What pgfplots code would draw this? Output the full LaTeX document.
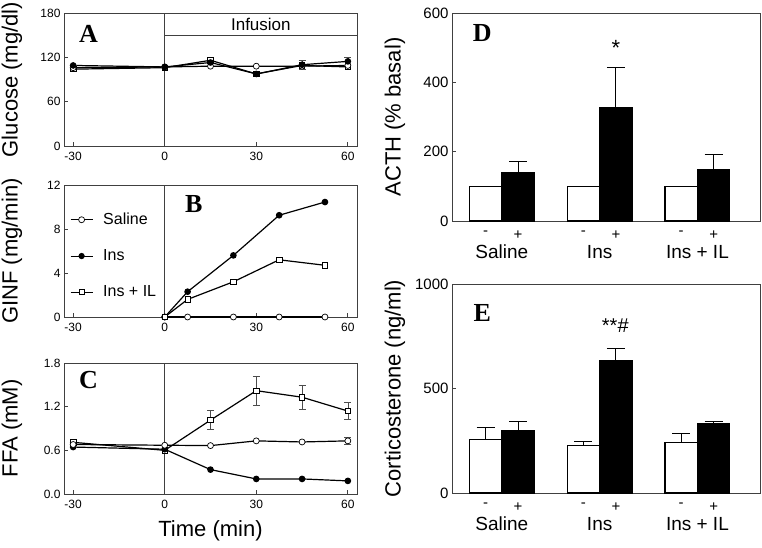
\documentclass[border=0pt]{standalone}
\usepackage{fontspec}
\setmainfont{Liberation Sans}
\newfontfamily\panelfont{Liberation Serif}
\usepackage{pgfplots}
\pgfplotsset{compat=1.18}

\newcommand{\fs}[1]{\fontsize{#1}{#1}\selectfont}
\newcommand{\plabel}[1]{{\panelfont\bfseries\fs{26}#1}}

\pgfplotsset{
  panel/.style={
    scale only axis, clip=false,
    axis line style={black!75, line width=0.8pt},
    tick align=inside, tick pos=left,
    major tick length=4pt,
    tick style={black!75, line width=0.8pt},
    /pgf/number format/assume math mode=true,
    /pgf/number format/1000 sep={},
    ticklabel style={font=\fs{12}},
    ylabel style={at={(axis description cs:0,0.5)}, anchor=center, font=\fs{22}},
  },
  timepanel/.style={
    panel, width=293pt, xmin=-33, xmax=63, xtick={-30,0,30,60},
    xticklabel style={yshift=-3pt},
    ylabel style={yshift=52pt},
  },
  barpanel/.style={
    panel, width=308pt, height=208pt, xmin=-0.51, xmax=2.64, ymin=0,
    xtick={-0.166,0.166,0.834,1.166,1.834,2.166},
    xticklabels={-,+,-,+,-,+},
    x tick style={draw=none},
    ticklabel style={font=\fs{15}},
    xticklabel style={yshift=-6pt},
    ylabel style={yshift=57pt},
  },
  sal/.style={black, line width=1.2pt, mark=*, mark size=3pt,
    mark options={fill=white, line width=0.7pt}},
  ins/.style={black, line width=1.2pt, mark=*, mark size=2.7pt},
  il/.style={black, line width=1.2pt, mark=square*, mark size=2.7pt,
    mark options={fill=white, line width=0.7pt}},
  ebar/.style={error bars/.cd, y dir=both, y explicit, error mark=|,
    error bar style={line width=0.6pt, black!70},
    error mark options={mark size=3.5pt, line width=0.6pt, black!70}},
  wbar/.style={ybar, fill=white, draw=black, line width=1.1pt,
    bar width=32.5pt, bar shift=0pt},
  bbar/.style={ybar, fill=black, draw=black, line width=1.1pt,
    bar width=32.5pt, bar shift=0pt},
  bebar/.style={error bars/.cd, y dir=plus, y explicit, error mark=|,
    error bar style={line width=0.8pt, black},
    error mark options={mark size=9pt, line width=0.8pt, black}},
}

\begin{document}
\begin{tikzpicture}
\useasboundingbox (0,0) rectangle (762pt,548pt);

% A: glucose
\begin{axis}[timepanel, at={(64pt,402pt)}, anchor=south west, height=133pt,
  ymin=0, ymax=180, ytick={0,60,120,180},
  ylabel={Glucose (mg/dl)}]
\draw[black!75, line width=0.8pt] (axis cs:0,0) -- (axis cs:0,180);
\draw[black!75, line width=0.8pt] (axis cs:0,149) -- (axis cs:63,149);
\node[font=\fs{17}] at (axis cs:31.5,164.5) {Infusion};
\node at (axis cs:-25,152) {\plabel{A}};
\addplot[il] coordinates {(-30,104) (0,106) (15,116) (30,97.5) (45,109) (60,107)};
\addplot[sal] coordinates {(-30,106) (0,107) (15,108) (30,108) (45,108) (60,109)};
\addplot[ins, ebar] coordinates {(-30,109) +- (0,0) (0,107) +- (0,0) (15,113) +- (0,0)
  (30,97.5) +- (0,0) (45,110) +- (0,6) (60,114.5) +- (0,5)};
\end{axis}

% B: GINF
\begin{axis}[timepanel, at={(64pt,231pt)}, anchor=south west, height=132pt,
  ymin=0, ymax=12, ytick={0,4,8,12},
  ylabel={GINF (mg/min)},
  legend style={draw=none, fill=none, at={(rel axis cs:0,1)}, anchor=north west,
    xshift=3pt, yshift=-24pt, font=\fs{16}, row sep=19.5pt},
  legend cell align=left,
  legend image code/.code={\draw[mark repeat=2,mark phase=2,#1,line width=0.8pt]
    plot coordinates {(0pt,0pt) (11pt,0pt) (22pt,0pt)};
    \path (30pt,0pt);}]
\draw[black!75, line width=0.8pt] (axis cs:0,0) -- (axis cs:0,12);
\node at (axis cs:9.5,10.3) {\plabel{B}};
\addplot[sal] coordinates {(0,0) (7.5,0) (22.5,0) (37.5,0) (52.5,0)};
\addplot[ins] coordinates {(0,0) (7.5,2.3) (22.5,5.6) (37.5,9.25) (52.5,10.45)};
\addplot[il] coordinates {(0,0) (7.5,1.6) (22.5,3.2) (37.5,5.2) (52.5,4.7)};
\legend{Saline, Ins, Ins + IL}
\end{axis}

% C: FFA
\begin{axis}[timepanel, at={(64pt,54pt)}, anchor=south west, height=131pt,
  ymin=0, ymax=1.8, ytick={0,0.6,1.2,1.8},
  yticklabel style={/pgf/number format/.cd, fixed, fixed zerofill, precision=1},
  ylabel={FFA (mM)},
  xlabel={Time (min)},
  xlabel style={at={(axis description cs:0.5,0)}, anchor=center, yshift=-37pt, font=\fs{22}}]
\draw[black!75, line width=0.8pt] (axis cs:0,0) -- (axis cs:0,1.8);
\node at (axis cs:-25,1.56) {\plabel{C}};
\addplot[il, ebar] coordinates {(-30,0.71) +- (0,0) (0,0.6) +- (0,0) (15,1.015) +- (0,0.13)
  (30,1.42) +- (0,0.2) (45,1.33) +- (0,0.17) (60,1.14) +- (0,0.12)};
\addplot[ins] coordinates {(-30,0.645) (0,0.615) (15,0.335) (30,0.207) (45,0.207) (60,0.18)};
\addplot[sal, ebar] coordinates {(-30,0.68) +- (0,0) (0,0.67) +- (0,0) (15,0.665) +- (0,0)
  (30,0.73) +- (0,0) (45,0.715) +- (0,0) (60,0.73) +- (0,0.05)};
\end{axis}

% D: ACTH
\begin{axis}[barpanel, at={(452pt,327pt)}, anchor=south west,
  ymax=600, ytick={0,200,400,600},
  ylabel={ACTH (\% basal)}]
\addplot[wbar] coordinates {(-0.166,100) (0.834,100) (1.834,100)};
\addplot[bbar, bebar] coordinates {(0.166,140) +- (0,33) (1.166,326) +- (0,116) (2.166,148) +- (0,45)};
\node at (axis cs:-0.2,543) {\plabel{D}};
\node[font=\fs{22}] at (axis cs:1.166,498) {*};
\node[font=\fs{19}] at (axis cs:0,0) [yshift=-31pt] {Saline};
\node[font=\fs{19}] at (axis cs:1,0) [yshift=-31pt] {Ins};
\node[font=\fs{19}] at (axis cs:2,0) [yshift=-31pt] {Ins + IL};
\end{axis}

% E: corticosterone
\begin{axis}[barpanel, at={(452pt,55pt)}, anchor=south west, height=209pt,
  ymax=1000, ytick={0,500,1000},
  ylabel={Corticosterone (ng/ml)}]
\addplot[wbar, bebar] coordinates {(-0.166,258) +- (0,57) (0.834,226) +- (0,19) (1.834,242) +- (0,41)};
\addplot[bbar, bebar] coordinates {(0.166,299) +- (0,43) (1.166,632) +- (0,58) (2.166,330) +- (0,12)};
\node at (axis cs:-0.2,860) {\plabel{E}};
\node[font=\fs{20}] at (axis cs:1.16,800) {**\#};
\node[font=\fs{19}] at (axis cs:0,0) [yshift=-31pt] {Saline};
\node[font=\fs{19}] at (axis cs:1,0) [yshift=-31pt] {Ins};
\node[font=\fs{19}] at (axis cs:2,0) [yshift=-31pt] {Ins + IL};
\end{axis}
\end{tikzpicture}
\end{document}
